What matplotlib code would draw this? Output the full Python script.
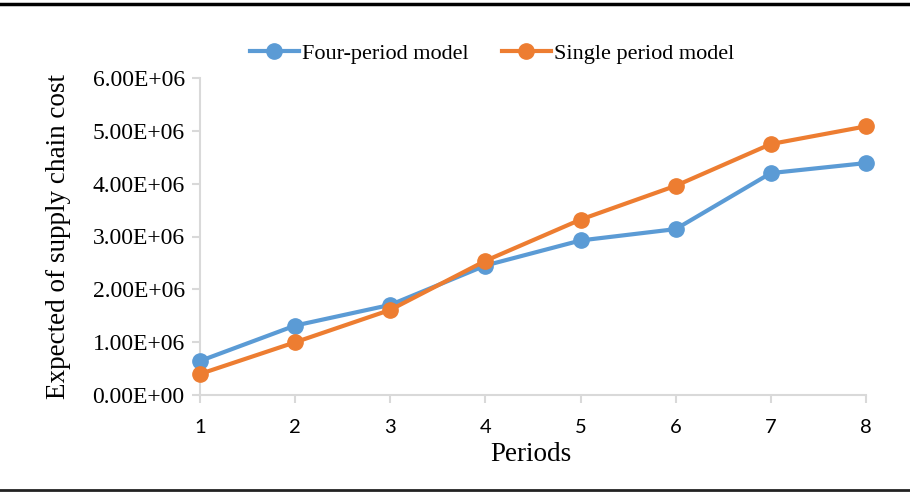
import matplotlib.pyplot as plt
from matplotlib.ticker import FuncFormatter
from matplotlib.lines import Line2D

periods = [1, 2, 3, 4, 5, 6, 7, 8]
four_period = [0.644e6, 1.314e6, 1.706e6, 2.451e6, 2.925e6, 3.14e6, 4.20e6, 4.39e6]
single_period = [0.398e6, 0.998e6, 1.611e6, 2.54e6, 3.32e6, 3.96e6, 4.75e6, 5.085e6]
series_names = ['Four-period model', 'Single period model']

BLUE = '#5B9BD5'
ORANGE = '#ED7D31'
GRID = '#D9D9D9'


def sci_fmt(v, pos):
    return f"{v:.2E}"


def main():
    fig = plt.figure(figsize=(9.1, 4.93), dpi=100)
    ax = fig.add_axes([200 / 910, 1 - 395 / 493, 666 / 910, 317 / 493])

    ax.plot(periods, four_period, color=BLUE, lw=3, marker='o', ms=11,
            label=series_names[0], zorder=3, clip_on=False)
    ax.plot(periods, single_period, color=ORANGE, lw=3, marker='o', ms=11,
            label=series_names[1], zorder=4, clip_on=False)

    ax.set_xlim(1, 8)
    ax.set_ylim(0, 6e6)
    ax.set_xticks(periods)
    ax.set_yticks([i * 1e6 for i in range(7)])
    ax.yaxis.set_major_formatter(FuncFormatter(sci_fmt))

    for s in ['top', 'right']:
        ax.spines[s].set_visible(False)
    for s in ['left', 'bottom']:
        ax.spines[s].set_color(GRID)
        ax.spines[s].set_linewidth(1.5)
    ax.tick_params(axis='both', color=GRID, width=1.5, length=6)
    ax.tick_params(axis='x', pad=11)
    ax.tick_params(axis='y', pad=5)

    for lab in ax.get_yticklabels():
        lab.set_fontfamily('Liberation Serif')
        lab.set_fontsize(17)
    for lab in ax.get_xticklabels():
        lab.set_fontfamily('Lato')
        lab.set_fontsize(14.5)

    ax.set_ylabel('Expected of supply chain cost', fontfamily='Liberation Serif',
                  fontsize=19.5)
    ax.yaxis.set_label_coords(-0.194, 0.5)
    ax.set_xlabel('Periods', fontfamily='Liberation Serif', fontsize=19.5)
    ax.xaxis.set_label_coords(0.497, -0.147)

    handles = [Line2D([], [], color=BLUE, lw=3, marker='o', ms=11),
               Line2D([], [], color=ORANGE, lw=3, marker='o', ms=11)]
    fig.legend(handles, series_names, loc='center', bbox_to_anchor=(492 / 910, 1 - 54 / 493),
               ncol=2, frameon=False, prop={'family': 'Liberation Serif', 'size': 16},
               handlelength=2.2, handletextpad=0.15, columnspacing=1.5)

    # horizontal rules above and below the figure
    fig.add_artist(Line2D([0, 1], [1 - 4 / 493, 1 - 4 / 493], color='black', lw=2.5,
                          transform=fig.transFigure))
    fig.add_artist(Line2D([0, 1], [1 - 490 / 493, 1 - 490 / 493], color='#222222', lw=2,
                          transform=fig.transFigure))

    fig.savefig('out.png', dpi=100)


if __name__ == "__main__":
    main()
